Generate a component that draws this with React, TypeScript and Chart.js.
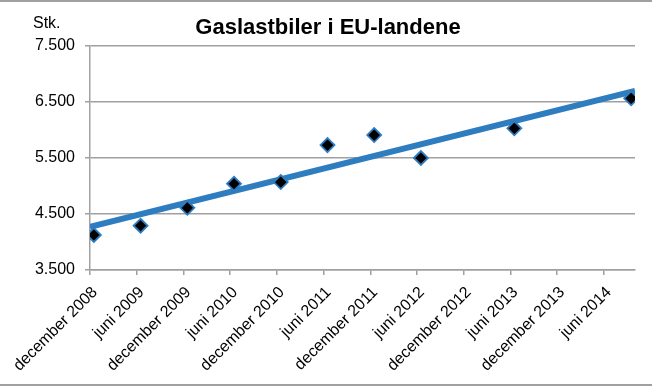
import React, { useEffect, useRef } from "react";
import { Chart, registerables } from "chart.js";

Chart.register(...registerables);

// ---- data ----
const chartTitle = "Gaslastbiler i EU-landene";
const unitLabel = "Stk.";
const tickLabels = [
  "december 2008",
  "juni 2009",
  "december 2009",
  "juni 2010",
  "december 2010",
  "juni 2011",
  "december 2011",
  "juni 2012",
  "december 2012",
  "juni 2013",
  "december 2013",
  "juni 2014",
];
const axisStartMonth = "2008-12";
const axisEndMonth = "2014-10";
const tickStepMonths = 6;
const pointMonths = [
  "2008-12",
  "2009-06",
  "2009-12",
  "2010-06",
  "2010-12",
  "2011-06",
  "2011-12",
  "2012-06",
  "2013-06",
  "2014-09",
];
const trucks = [4125, 4290, 4610, 5040, 5070, 5730, 5910, 5500, 6030, 6566];
const trendMonths = ["2008-12", "2014-10"];
const trendValues = [4270, 6700];
const yMin = 3500;
const yMax = 7500;
const yStep = 1000;

function monthIndex(s: string): number {
  const [y, m] = s.split("-").map(Number);
  const [y0, m0] = axisStartMonth.split("-").map(Number);
  return (y - y0) * 12 + (m - m0);
}

function fmt(v: number): string {
  return String(Math.round(v)).replace(/\B(?=(\d{3})+(?!\d))/g, ".");
}

const FONT = "'Liberation Sans', Arial, Helvetica, sans-serif";
const GRID = "#a0a0a0";
const BLUE = "#2e7dc0";

export default function App() {
  const ref = useRef<HTMLCanvasElement | null>(null);

  useEffect(() => {
    if (!ref.current) return;
    Chart.defaults.font.family = FONT;

    const decorations = {
      id: "decorations",
      beforeDraw(chart: any) {
        const ctx = chart.ctx;
        ctx.save();
        ctx.fillStyle = "#ffffff";
        ctx.fillRect(0, 0, chart.width, chart.height);
        ctx.restore();
      },
      afterDraw(chart: any) {
        const ctx = chart.ctx;
        ctx.save();
        ctx.fillStyle = GRID;
        ctx.fillRect(0, 0, chart.width, 2);
        ctx.fillRect(0, chart.height - 3, chart.width, 2);
        ctx.fillStyle = "#000";
        ctx.textBaseline = "middle";
        ctx.textAlign = "left";
        ctx.font = `16px ${FONT}`;
        ctx.fillText(unitLabel, 33, 24);
        ctx.textAlign = "center";
        ctx.font = `bold 22px ${FONT}`;
        ctx.fillText(chartTitle, 328, 28);
        ctx.restore();
      },
    };

    const chart = new Chart(ref.current, {
      type: "scatter",
      data: {
        datasets: [
          {
            label: "Trend",
            data: trendMonths.map((m, i) => ({ x: monthIndex(m), y: trendValues[i] })),
            showLine: true,
            borderColor: BLUE,
            borderWidth: 6,
            pointRadius: 0,
            borderCapStyle: "butt",
            order: 1,
          },
          {
            label: "Gaslastbiler",
            data: pointMonths.map((m, i) => ({ x: monthIndex(m) + 0.5, y: trucks[i] })),
            pointStyle: "rectRot",
            pointRadius: 7,
            pointBackgroundColor: "#000000",
            pointBorderColor: BLUE,
            pointBorderWidth: 1.8,
            showLine: false,
            order: 0,
          },
        ],
      },
      options: {
        responsive: false,
        animation: false,
        devicePixelRatio: 1,
        layout: { padding: { left: 0, right: 17, top: 46, bottom: 0 } },
        plugins: {
          legend: { display: false },
          tooltip: { enabled: false },
          title: { display: false },
        },
        scales: {
          x: {
            type: "linear",
            min: monthIndex(axisStartMonth),
            max: monthIndex(axisEndMonth),
            afterBuildTicks: (scale: any) => {
              scale.ticks = tickLabels.map((_, i) => ({ value: i * tickStepMonths }));
            },
            afterFit: (scale: any) => {
              scale.height = 117;
            },
            grid: {
              drawOnChartArea: false,
              drawTicks: true,
              tickLength: 5,
              color: GRID,
              lineWidth: 1.5,
            },
            border: { display: true, color: GRID, width: 1.5 },
            ticks: {
              autoSkip: false,
              maxRotation: 45,
              minRotation: 45,
              padding: 8,
              labelOffset: 5,
              color: "#000",
              font: { family: FONT, size: 16 },
              callback: (v: any) => {
                const i = Math.round(Number(v) / tickStepMonths);
                return tickLabels[i] ?? "";
              },
            },
          },
          y: {
            min: yMin,
            max: yMax,
            afterFit: (scale: any) => {
              scale.width = 90;
            },
            grid: {
              color: GRID,
              lineWidth: 1.5,
              drawTicks: true,
              tickLength: 5,
            },
            border: { display: true, color: GRID, width: 1.5 },
            ticks: {
              stepSize: yStep,
              padding: 10,
              color: "#000",
              font: { family: FONT, size: 16 },
              callback: (v: any) => fmt(Number(v)),
            },
          },
        },
      },
      plugins: [decorations],
    } as any);

    return () => chart.destroy();
  }, []);

  return (
    <div style={{ position: "absolute", left: 0, top: 0, width: 652, height: 387 }}>
      <canvas ref={ref} width={652} height={387} style={{ width: 652, height: 387, display: "block" }} />
    </div>
  );
}
